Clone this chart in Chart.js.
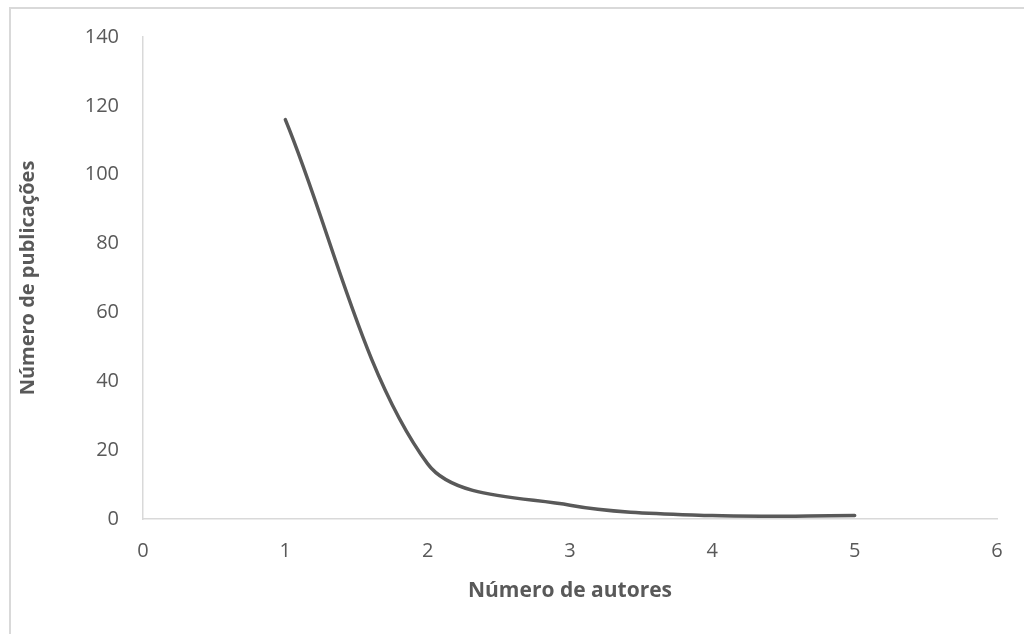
<!DOCTYPE html>
<html>
<head>
<meta charset="utf-8">
<script src="https://cdn.jsdelivr.net/npm/chart.js@4/dist/chart.umd.min.js"></script>
<style>
  html, body { margin: 0; padding: 0; background: #fff; overflow: hidden; }
  #frame { position: absolute; left: 9px; top: 7px; width: 1100px; height: 700px;
           border-left: 2px solid #d9d9d9; border-top: 2px solid #d9d9d9; }
  #wrap { position: absolute; left: 0; top: 0; width: 1024px; height: 634px; }
</style>
</head>
<body>
<div id="frame"></div>
<div id="wrap"><canvas id="myChart" width="1024" height="634"></canvas></div>
<script>
// data
const authors = [1, 2, 3, 4, 5];
const publications = [116, 16, 4, 1, 1];
const xTicks = [0, 1, 2, 3, 4, 5, 6];
const yTicks = [0, 20, 40, 60, 80, 100, 120, 140];

const gray = '#595959';
const axisGray = '#d9d9d9';
const font = 'Open Sans';

const points = authors.map((a, i) => ({ x: a, y: publications[i] }));

const ctx = document.getElementById('myChart').getContext('2d');
new Chart(ctx, {
    type: 'scatter',
    data: {
        datasets: [{
            data: points,
            showLine: true,
            borderColor: gray,
            borderWidth: 3.5,
            borderCapStyle: 'round',
            tension: 0.32,
            pointRadius: 0,
            fill: false
        }]
    },
    options: {
        responsive: false,
        animation: false,
        layout: { padding: { top: 37, right: 27, left: 0, bottom: 0 } },
        plugins: { legend: { display: false }, tooltip: { enabled: false } },
        scales: {
            x: {
                type: 'linear',
                min: xTicks[0],
                max: xTicks[xTicks.length - 1],
                afterBuildTicks: (s) => { s.ticks = xTicks.map(v => ({ value: v })); },
                afterFit: (s) => { s.height = 115; },
                grid: { display: true, color: 'transparent', drawTicks: false },
                border: { display: true, color: axisGray, width: 1.5 },
                ticks: { color: gray, padding: 20, font: { family: font, size: 20 } },
                title: {
                    display: true,
                    text: 'Número de autores',
                    color: gray,
                    padding: { top: 0, bottom: 30 },
                    font: { family: font, size: 21, weight: 'bold' }
                }
            },
            y: {
                type: 'linear',
                min: yTicks[0],
                max: yTicks[yTicks.length - 1],
                afterBuildTicks: (s) => { s.ticks = yTicks.map(v => ({ value: v })); },
                afterFit: (s) => { s.width = 143; },
                grid: { display: true, color: 'transparent', drawTicks: false },
                border: { display: true, color: axisGray, width: 1.5 },
                ticks: { color: gray, padding: 24, font: { family: font, size: 20 } },
                title: {
                    display: true,
                    text: 'Número de publicações',
                    color: gray,
                    padding: { top: 16, bottom: 0 },
                    font: { family: font, size: 20, weight: 'bold' }
                }
            }
        }
    }
});
</script>
</body>
</html>
